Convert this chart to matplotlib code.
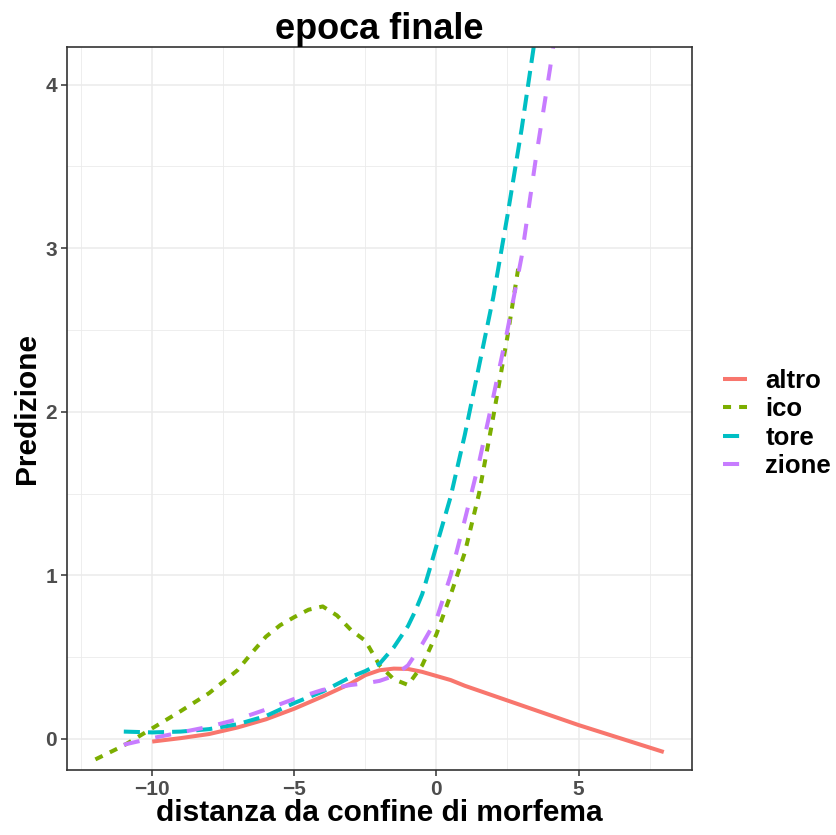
#準備段階
import matplotlib
matplotlib.use("Agg")
import matplotlib.pyplot as plt
from matplotlib.ticker import MultipleLocator

plt.rcParams["font.family"] = ["Liberation Sans", "DejaVu Sans"]
plt.rcParams["font.weight"] = "bold"

#データ (読み取り値)
altro_x = [-10, -9, -8, -7, -6, -5, -4, -3, -2.5, -2, -1.5, -1, -0.5, 0, 0.5, 1, 2, 3, 4, 5, 6, 7, 8]
altro_y = [-0.016, 0.005, 0.03, 0.07, 0.12, 0.185, 0.26, 0.34, 0.39, 0.42, 0.43, 0.428, 0.41,
           0.385, 0.36, 0.325, 0.265, 0.205, 0.145, 0.085, 0.03, -0.025, -0.08]

ico_x = [-12, -11, -10, -9, -8, -7.5, -7, -6.5, -6, -5.5, -5, -4.5, -4, -3.5, -3, -2.5, -2,
         -1.5, -1, -0.5, 0, 0.5, 1, 1.5, 2, 2.5, 2.9]
ico_y = [-0.125, -0.04, 0.065, 0.17, 0.28, 0.35, 0.42, 0.525, 0.625, 0.695, 0.745, 0.79, 0.81,
         0.755, 0.665, 0.6, 0.45, 0.365, 0.33, 0.45, 0.64, 0.88, 1.14, 1.5, 1.97, 2.46, 2.9]

tore_x = [-11, -10, -9, -8, -7, -6, -5, -4, -3, -2.5, -2, -1.5, -1, -0.75, -0.5, -0.25, 0, 0.5,
          1, 1.5, 2, 2.5, 3, 3.5, 4]
tore_y = [0.045, 0.04, 0.045, 0.06, 0.09, 0.14, 0.22, 0.29, 0.38, 0.415, 0.46, 0.56, 0.69,
          0.78, 0.885, 1.03, 1.18, 1.48, 1.86, 2.28, 2.7, 3.2, 3.73, 4.32, 4.9]

zione_x = [-11, -10, -9, -8, -7, -6, -5, -4, -3, -2.5, -2, -1.5, -1, -0.5, 0, 0.5, 1, 1.5,
           2, 2.5, 3, 3.5, 4, 4.5]
zione_y = [-0.035, 0.005, 0.04, 0.075, 0.12, 0.18, 0.245, 0.3, 0.33, 0.34, 0.355, 0.385, 0.45,
           0.58, 0.73, 1.0, 1.34, 1.69, 2.09, 2.5, 2.95, 3.55, 4.1, 4.7]

#画布
fig = plt.figure(figsize=(8.37, 8.35), dpi=100, facecolor="white")
ax = fig.add_axes([0.080, 0.0778, 0.747, 0.866])

lw = 2.9
ax.plot(altro_x, altro_y, color="#F8766D", lw=lw, label="altro", solid_capstyle="butt")
ax.plot(ico_x, ico_y, color="#7CAE00", lw=lw, dashes=(2, 2), label="ico")
ax.plot(tore_x, tore_y, color="#00BFC4", lw=lw, dashes=(4, 2), label="tore")
ax.plot(zione_x, zione_y, color="#C77CFF", lw=lw, dashes=(4, 4), label="zione")

ax.set_xlim(-13, 9)
ax.set_ylim(-0.19, 4.23)
ax.xaxis.set_major_locator(MultipleLocator(5))
ax.xaxis.set_minor_locator(MultipleLocator(2.5))
ax.yaxis.set_major_locator(MultipleLocator(1))
ax.yaxis.set_minor_locator(MultipleLocator(0.5))
ax.grid(which="major", color="#EBEBEB", lw=1.1)
ax.grid(which="minor", color="#EBEBEB", lw=0.6)
ax.set_axisbelow(True)
for s in ax.spines.values():
    s.set_color("#333333")
    s.set_linewidth(1.2)
ax.tick_params(which="major", length=4, width=1.1, color="#333333",
               labelsize=15, labelcolor="#4D4D4D", pad=3)
ax.tick_params(which="minor", length=0)
ax.set_xticks([-10, -5, 0, 5])
ax.set_xticklabels(["\u221210", "\u22125", "0", "5"])

ax.set_title("epoca finale", fontsize=26, fontweight="bold", pad=6)
ax.set_xlabel("distanza da confine di morfema", fontsize=21.5, fontweight="bold", labelpad=0)
ax.set_ylabel("Predizione", fontsize=21.5, fontweight="bold", labelpad=3)

leg = ax.legend(loc="center left", bbox_to_anchor=(1.012, 0.479), frameon=False,
                fontsize=18.5, handlelength=0.95, labelspacing=0.17, handletextpad=0.7)

plt.savefig("out.png", dpi=100, facecolor="white")
